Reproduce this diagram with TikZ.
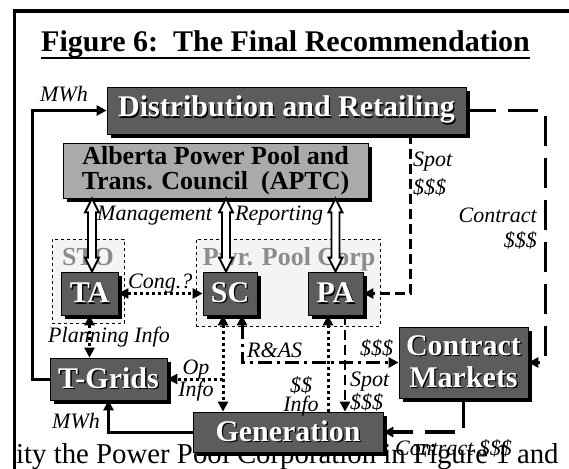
\documentclass[tikz,border=0pt]{standalone}
\usepackage{fontspec}
\setmainfont{Liberation Serif}
\usepackage{tikz}
\usetikzlibrary{arrows.meta,positioning,shadows,calc}
\definecolor{BoxGray}{RGB}{92,92,92}
\definecolor{PoolGray}{RGB}{170,170,170}
\definecolor{GrpFill}{RGB}{244,244,244}
\definecolor{GrpText}{RGB}{140,140,140}

% white box text with a dark offset copy behind it
\newcommand\emb[1]{\leavevmode\rlap{\kern1.3pt\raisebox{-1.3pt}{\color{black}#1}}\textcolor{white}{#1}}
% hollow two-headed arrow between a top and a bottom point
\newcommand\bidir[2]{\draw[line width=1.9pt,fill=white,line join=miter]
  let \p1=(#1),\p2=(#2) in (\x1,\y1) -- ++(-7pt,-14pt) -- ++(3pt,0pt)
  -- (\x1-4pt,\y2+14pt) -- ++(-3pt,0pt) -- (\x1,\y2) -- ++(7pt,14pt)
  -- ++(-3pt,0pt) -- (\x1+4pt,\y1-14pt) -- ++(3pt,0pt) -- cycle;}

\begin{document}
\begin{tikzpicture}[x=1pt,y=-1pt,
    >={Triangle[length=10pt,width=10pt]},
    box/.style={draw=black,fill=BoxGray,line width=0.8pt,inner sep=0pt,align=center,
                font=\bfseries\fontsize{30}{32}\selectfont,
                drop shadow={shadow xshift=4pt,shadow yshift=-4pt,fill=black,opacity=1}},
    hdr/.style={box,fill=PoolGray,font=\bfseries\fontsize{26}{25}\selectfont},
    grp/.style={draw=black,dashed,line width=0.6pt,fill=GrpFill,inner sep=0pt},
    grplbl/.style={font=\bfseries\fontsize{26}{28}\selectfont,text=GrpText,inner sep=0pt},
    lbl/.style={font=\itshape\fontsize{22}{26}\selectfont,inner sep=0pt},
    arr/.style={line width=3pt},
    dsh/.style={line width=3.8pt,dash pattern=on 30pt off 12pt},
    dshs/.style={line width=2.8pt,dash pattern=on 10pt off 5pt},
    dotarr/.style={line width=3pt,dash pattern=on 3pt off 3pt},
    ddash/.style={line width=3pt,dash pattern=on 14pt off 5pt on 3pt off 5pt},
    frame/.style={line width=3.5pt}
  ]
  \useasboundingbox (0,0) rectangle (569,468);

  % text of the page running through the bottom
  \node[anchor=base west,inner sep=0pt,font=\fontsize{28.8}{30}\selectfont] (body) at (16,463)
    {ity the Power Pool Corporation in Figure 1 and};
  \draw[frame] (620,11) -| (14.7,520);

  \node[anchor=base,inner sep=0pt,font=\bfseries\fontsize{30}{32}\selectfont] (title) at (285.5,51.5)
    {Figure 6:\ \ The Final Recommendation};
  \draw[line width=2.4pt] ([yshift=-6.5pt]title.base west) -- ([yshift=-6.5pt]title.base east);

  % boxes
  \node[box,minimum width=359,minimum height=47] (dist) at (286.5,110.5) {\emb{Distribution and Retailing}};
  \node[hdr,minimum width=305,minimum height=55] (aptc) at (215.5,170.5) {Alberta Power Pool and\\Trans. Council\ \ (APTC)};
  \node[grp,minimum width=72,minimum height=84,
        label={[grplbl,anchor=north,yshift=-9pt]north:STO}] (sto) at (88,281) {};
  \node[grp,minimum width=184,minimum height=87,
        label={[grplbl,anchor=north west,xshift=7pt,yshift=-9pt]north west:Pwr. Pool Corp}] (ppc) at (288,282.5) {};
  \node[box,minimum width=57,minimum height=43] (ta) at (89.5,293.5) {\emb{TA}};
  \node[box,minimum width=54,minimum height=43] (sc) at (230,293.5) {\emb{SC}};
  \node[box,minimum width=55,minimum height=43] (pa) at (335.5,293.5) {\emb{PA}};
  \node[box,minimum width=117,minimum height=42] (tg) at (108.5,379) {\emb{T-Grids}};
  \node[box,minimum width=190,minimum height=40] (gen) at (288,432) {\emb{Generation}};
  \node[box,minimum width=129,minimum height=71] (cm) at (463.5,362.5) {\emb{Contract}\\\emb{Markets}};

  \coordinate (taup) at ([xshift=2.5]ta.north);
  \coordinate (scup) at ([xshift=-4]sc.north);
  \coordinate (opx) at ([xshift=-7]sc.south);
  \coordinate (rax) at ([xshift=12]sc.south);
  \coordinate (pax) at ([xshift=-7.5]pa.south);
  \coordinate (pbx) at ([xshift=9.5]pa.south);

  % connectors
  \bidir{taup |- aptc.south}{taup}
  \bidir{scup |- aptc.south}{scup}
  \bidir{pa.north |- aptc.south}{pa.north}
  \draw[dotarr,<->] (ta.east) -- (sc.west);
  \draw[dotarr,<->] (ta.south) -- (tg.north -| ta.south);
  \draw[dotarr,<->] (opx) -- (opx |- gen.north);
  \draw[dotarr,->] (opx |- tg.east) -- (tg.east);
  \draw[dotarr,->] (pax |- gen.north) -- (pax);
  \draw[dshs,->] (pbx) -- (pbx |- gen.north);
  \draw[dshs,->] ([xshift=-56]dist.south east) |- (pa.east);
  \draw[dsh,->] (dist.east) -| ([xshift=17]cm.east) -- (cm.east);
  \draw[dsh,->] (cm.south) |- (gen.east);
  \draw[ddash,<->] (rax) |- (cm.west);
  \draw[arr,->] (tg.west) -- ++(-17,0) |- (dist.west);
  \draw[arr,->] (gen.west) -| (tg.south);

  % labels
  \node[lbl,anchor=base west] (mwhtop) at (40,102) {MWh};
  \node[lbl,anchor=base west] (mgmt) at (97,220) {Management};
  \node[lbl,anchor=base west] (rep) at (235,220) {Reporting};
  \node[lbl,anchor=north west,align=left,font=\itshape\fontsize{22}{28}\selectfont] (spotd) at (413,152) {Spot\\\$\$\$};
  \node[lbl,anchor=north east,align=right,font=\itshape\fontsize{22}{25}\selectfont] (ctrd) at (537,208) {Contract\\\$\$\$};
  \node[lbl,anchor=base west] (cong) at (128,288) {Cong.?};
  \node[lbl,anchor=base west] (plan) at (48,342) {Planning Info};
  \node[lbl,anchor=north,align=center,font=\itshape\fontsize{22}{22}\selectfont] (opinfo) at (196,360) {Op\\Info};
  \node[lbl,anchor=base west] (ras) at (247,357) {R\&AS};
  \node[lbl,anchor=base west] (cmd) at (360,355) {\$\$\$};
  \node[lbl,anchor=north,align=center,font=\itshape\fontsize{22}{19}\selectfont] (info) at (301,376) {\$\$\\Info};
  \node[lbl,anchor=north west,align=left,font=\itshape\fontsize{22}{23}\selectfont] (spotg) at (350,372) {Spot\\\$\$\$};
  \node[lbl,anchor=base west] (mwhbot) at (52,428) {MWh};
  \node[lbl,anchor=base west] (ctrg) at (395,455) {Contract \$\$\$};
\end{tikzpicture}
\end{document}
